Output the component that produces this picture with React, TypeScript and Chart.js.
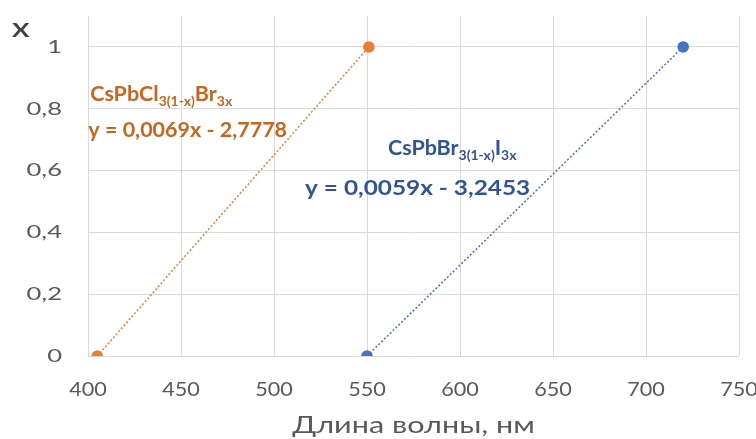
import { useEffect, useRef } from 'react';
import { Chart, registerables } from 'chart.js';

Chart.register(...registerables);

// Data
const clWavelength = [405, 551];
const clX = [0, 1];
const brWavelength = [550, 720];
const brX = [0, 1];
const xTickValues = [400, 450, 500, 550, 600, 650, 700, 750];
const yTickValues = [0, 0.2, 0.4, 0.6, 0.8, 1];

const clLabel = [
  { t: 'CsPbCl', sub: false },
  { t: '3(1-x)', sub: true },
  { t: 'Br', sub: false },
  { t: '3x', sub: true },
];
const clEquation = 'y = 0,0069x - 2,7778';
const brLabel = [
  { t: 'CsPbBr', sub: false },
  { t: '3(1-x)', sub: true },
  { t: 'I', sub: false },
  { t: '3x', sub: true },
];
const brEquation = 'y = 0,0059x - 3,2453';
const xTitle = 'Длина волны, нм';
const yTitle = 'X';

const ORANGE = '#ED7D31';
const ORANGE_TEXT = '#C8651E';
const BLUE = '#4472C4';
const BLUE_TEXT = '#2F5597';
const FONT = 'Lato';

// horizontal widening of axis texts (by font size), to match the wide lettering
const Y_TICK_SIZE = 18;
const X_TICK_SIZE = 19;
const TITLE_SIZE = 23;
const STRETCH: Record<number, number> = { [Y_TICK_SIZE]: 1.42, [X_TICK_SIZE]: 1.14, [TITLE_SIZE]: 1.33 };

type Part = { t: string; sub: boolean };

function stretchFor(ctx: CanvasRenderingContext2D): number {
  const f = ctx.font;
  if (/bold|700/.test(f)) return 1;
  const m = /(\d+(?:\.\d+)?)px/.exec(f);
  const size = m ? parseFloat(m[1]) : 0;
  return STRETCH[size] ?? 1;
}

function patchContext(ctx: any) {
  if (ctx.__patched) return;
  ctx.__patched = true;
  const origFill = ctx.fillText.bind(ctx);
  const origMeasure = ctx.measureText.bind(ctx);
  ctx.fillText = (text: string, x: number, y: number, maxWidth?: number) => {
    const sx = stretchFor(ctx);
    if (sx === 1) {
      if (maxWidth === undefined) origFill(text, x, y);
      else origFill(text, x, y, maxWidth);
      return;
    }
    ctx.save();
    ctx.translate(x, y);
    ctx.scale(sx, 1);
    origFill(text, 0, 0);
    ctx.restore();
  };
  ctx.measureText = (text: string) => {
    const m = origMeasure(text);
    const sx = stretchFor(ctx);
    if (sx === 1) return m;
    return {
      width: m.width * sx,
      actualBoundingBoxAscent: m.actualBoundingBoxAscent,
      actualBoundingBoxDescent: m.actualBoundingBoxDescent,
      actualBoundingBoxLeft: m.actualBoundingBoxLeft * sx,
      actualBoundingBoxRight: m.actualBoundingBoxRight * sx,
      fontBoundingBoxAscent: m.fontBoundingBoxAscent,
      fontBoundingBoxDescent: m.fontBoundingBoxDescent,
    };
  };
}

function drawRich(ctx: CanvasRenderingContext2D, x: number, y: number, parts: Part[], size: number, color: string, sx: number) {
  ctx.save();
  ctx.translate(x, y);
  ctx.scale(sx, 1);
  let cx = 0;
  ctx.fillStyle = color;
  ctx.textAlign = 'left';
  ctx.textBaseline = 'alphabetic';
  for (const p of parts) {
    const fs = p.sub ? Math.round(size * 0.66) : size;
    ctx.font = `bold ${fs}px ${FONT}`;
    ctx.fillText(p.t, cx, p.sub ? size * 0.25 : 0);
    cx += ctx.measureText(p.t).width;
  }
  ctx.restore();
}

const stretchPlugin = {
  id: 'stretchText',
  beforeInit(chart: any) {
    patchContext(chart.ctx);
  },
};

const annotationPlugin = {
  id: 'annotations',
  afterDraw(chart: any) {
    const { ctx, scales } = chart;
    const xs = scales.x;
    const ys = scales.y;
    drawRich(ctx, xs.getPixelForValue(401.2), ys.getPixelForValue(0.825), clLabel, 20, ORANGE_TEXT, 1.075);
    drawRich(ctx, xs.getPixelForValue(400.2), ys.getPixelForValue(0.709), [{ t: clEquation, sub: false }], 20, ORANGE_TEXT, 1.075);
    drawRich(ctx, xs.getPixelForValue(561.3), ys.getPixelForValue(0.65), brLabel, 20, BLUE_TEXT, 1.075);
    drawRich(ctx, xs.getPixelForValue(516.7), ys.getPixelForValue(0.521), [{ t: brEquation, sub: false }], 21, BLUE_TEXT, 1.16);
    // Y axis title
    drawRich(ctx, 12, 37, [{ t: yTitle, sub: false }], 18, '#404040', 1.45);
  },
};

export default function App() {
  const ref = useRef<HTMLCanvasElement | null>(null);
  useEffect(() => {
    document.body.style.margin = '0';
    const canvas = ref.current!;
    const chart = new Chart(canvas, {
      type: 'scatter',
      data: {
        datasets: [
          {
            label: 'CsPbCl3(1-x)Br3x',
            data: clWavelength.map((w, i) => ({ x: w, y: clX[i] })),
            showLine: true,
            borderColor: ORANGE,
            backgroundColor: ORANGE,
            borderWidth: 1.5,
            borderDash: [2, 2],
            pointRadius: 5,
            pointHoverRadius: 5,
          },
          {
            label: 'CsPbBr3(1-x)I3x',
            data: brWavelength.map((w, i) => ({ x: w, y: brX[i] })),
            showLine: true,
            borderColor: BLUE,
            backgroundColor: BLUE,
            borderWidth: 1.5,
            borderDash: [2, 2],
            pointRadius: 5,
            pointHoverRadius: 5,
          },
        ],
      },
      options: {
        animation: false,
        responsive: false,
        maintainAspectRatio: false,
        layout: { padding: { top: 16, right: 17, left: 0, bottom: 0 } },
        plugins: { legend: { display: false }, tooltip: { enabled: false } },
        scales: {
          x: {
            type: 'linear',
            min: 400,
            max: 750,
            afterBuildTicks: (s: any) => {
              s.ticks = xTickValues.map((v) => ({ value: v }));
            },
            afterFit: (s: any) => {
              s.height = 83;
              s.paddingLeft = 0;
              s.paddingRight = 0;
            },
            grid: { color: '#d9d9d9', drawTicks: false, lineWidth: 1 },
            border: { display: false },
            ticks: {
              padding: 22,
              color: '#595959',
              font: { family: FONT, size: X_TICK_SIZE },
              maxRotation: 0,
              autoSkip: false,
            },
            title: {
              display: true,
              text: xTitle,
              color: '#595959',
              font: { family: FONT, size: TITLE_SIZE },
              padding: { top: 0, bottom: 0 },
            },
          },
          y: {
            type: 'linear',
            min: 0,
            max: 1.1,
            afterBuildTicks: (s: any) => {
              s.ticks = yTickValues.map((v) => ({ value: v }));
            },
            afterFit: (s: any) => {
              s.width = 88;
              s.paddingTop = 0;
              s.paddingBottom = 0;
            },
            grid: { color: '#d9d9d9', drawTicks: false, lineWidth: 1 },
            border: { display: false },
            ticks: {
              padding: 26,
              color: '#595959',
              font: { family: FONT, size: Y_TICK_SIZE },
              callback: (v: any) => String(Math.round(Number(v) * 10) / 10).replace('.', ','),
            },
          },
        },
      },
      plugins: [stretchPlugin, annotationPlugin],
    } as any);
    return () => chart.destroy();
  }, []);
  return (
    <div style={{ width: 756, height: 439, background: '#fff' }}>
      <canvas ref={ref} width={756} height={439} style={{ display: 'block' }} />
    </div>
  );
}
